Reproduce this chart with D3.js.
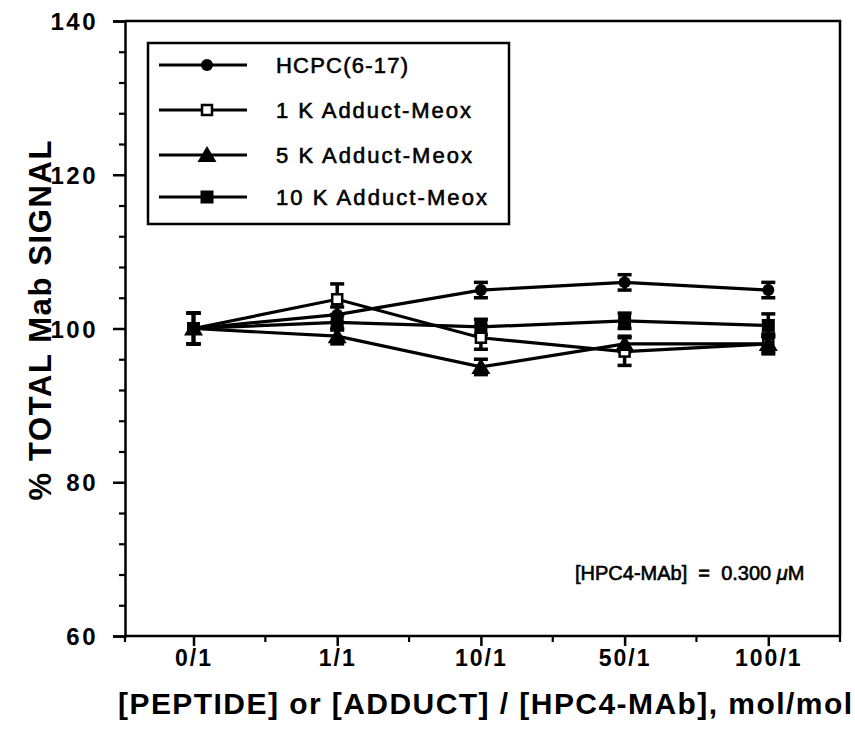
<!DOCTYPE html>
<html>
<head>
<meta charset="utf-8">
<script src="https://cdn.jsdelivr.net/npm/d3@7"></script>
<style>
  html, body { margin: 0; padding: 0; background: #fff; }
  svg { display: block; }
  text { font-family: "Liberation Sans", Arial, Helvetica, sans-serif; fill: #000; }
</style>
</head>
<body>
<svg id="chart" width="855" height="736"></svg>
<script>
// ---- data ----
const categories = ["0/1", "1/1", "10/1", "50/1", "100/1"];
const seriesNames = ["HCPC(6-17)", "1 K Adduct-Meox", "5 K Adduct-Meox", "10 K Adduct-Meox"];
const hcpcValues   = [100, 101.8, 105.0, 106.0, 105.0];
const hcpcErrors   = [2.0, 1.0, 1.0, 1.0, 1.0];
const adduct1kValues = [100, 103.8, 98.8, 97.0, 98.0];
const adduct1kErrors = [2.0, 2.0, 1.5, 1.8, 1.0];
const adduct5kValues = [100, 99.0, 95.0, 98.0, 98.0];
const adduct5kErrors = [2.0, 1.0, 1.0, 1.0, 1.3];
const adduct10kValues = [100, 100.8, 100.2, 101.0, 100.4];
const adduct10kErrors = [2.0, 1.0, 1.0, 1.0, 1.5];
const yTicks = [60, 80, 100, 120, 140];
const yMinorTicks = [64, 68, 72, 76, 84, 88, 92, 96, 104, 108, 112, 116, 124, 128, 132, 136];
const yLabel = "% TOTAL Mab SIGNAL";
const xLabel = "[PEPTIDE] or [ADDUCT] / [HPC4-MAb], mol/mol";
const noteText = "[HPC4-MAb]  =  0.300 ";

const series = [
  { name: seriesNames[0], values: hcpcValues, errors: hcpcErrors, symbol: "circle" },
  { name: seriesNames[1], values: adduct1kValues, errors: adduct1kErrors, symbol: "openSquare" },
  { name: seriesNames[2], values: adduct5kValues, errors: adduct5kErrors, symbol: "triangle" },
  { name: seriesNames[3], values: adduct10kValues, errors: adduct10kErrors, symbol: "square" }
];

// ---- layout ----
const plot = { left: 125, right: 840, top: 21, bottom: 636 };
const svg = d3.select("#chart");

const x = d3.scalePoint().domain(categories).range([193.5, 768.3]);
const y = d3.scaleLinear().domain([60, 140]).range([plot.bottom, plot.top]);

// frame (top and right)
svg.append("path")
  .attr("d", `M${plot.left},${plot.top}H${plot.right}V${plot.bottom}`)
  .attr("fill", "none").attr("stroke", "#000").attr("stroke-width", 2.5);

// y axis
const yAxis = d3.axisLeft(y).tickValues(yTicks).tickSize(12).tickPadding(4).tickFormat(d3.format("d"));
const gy = svg.append("g").attr("transform", `translate(${plot.left},0)`).call(yAxis);
gy.select(".domain").attr("stroke-width", 2.5);
gy.selectAll(".tick line").attr("stroke-width", 2.5);
gy.selectAll(".tick text").style("font-size", "24px").style("font-weight", "bold")
  .attr("dy", "0.36em").attr("x", -27).style("letter-spacing", "2.5px");
const yMinor = d3.axisLeft(y).tickValues(yMinorTicks).tickSize(6).tickFormat("");
const gym = svg.append("g").attr("transform", `translate(${plot.left},0)`).call(yMinor);
gym.select(".domain").remove();
gym.selectAll(".tick line").attr("stroke-width", 2.2);

// x axis
const xAxis = d3.axisBottom(x).tickSize(10).tickPadding(12);
const gx = svg.append("g").attr("transform", `translate(0,${plot.bottom})`).call(xAxis);
gx.select(".domain").attr("d", `M${plot.left},0H${plot.right}`).attr("stroke-width", 2.5);
gx.selectAll(".tick line").attr("stroke-width", 2.5);
gx.selectAll(".tick text").style("font-size", "23px").style("font-weight", "bold")
  .style("letter-spacing", "2px").attr("y", 14).attr("dy", "0.71em");
// minor x ticks at midpoints and frame ends
const step = x.step();
const xMinorPos = [plot.left].concat(categories.slice(0, -1).map(c => x(c) + step / 2)).concat([plot.right]);
svg.append("g").selectAll("line").data(xMinorPos).join("line")
  .attr("x1", d => d).attr("x2", d => d)
  .attr("y1", plot.bottom).attr("y2", plot.bottom + 6)
  .attr("stroke", "#000").attr("stroke-width", 2.2);

// axis titles
svg.append("text")
  .attr("transform", `translate(51,${(plot.top + plot.bottom) / 2 - 8}) rotate(-90)`)
  .attr("text-anchor", "middle")
  .attr("textLength", 360).attr("lengthAdjust", "spacing")
  .style("font-size", "31px").style("font-weight", "bold")
  .text(yLabel);
svg.append("text")
  .attr("x", 118).attr("y", 714)
  .attr("textLength", 734).attr("lengthAdjust", "spacing")
  .style("font-size", "30px").style("font-weight", "bold")
  .text(xLabel);

// note
const note = svg.append("text").attr("x", 575).attr("y", 580)
  .style("white-space", "pre")
  .style("font-size", "20px").attr("stroke", "#000").attr("stroke-width", 0.6);
note.append("tspan").text(noteText);
note.append("tspan").style("font-style", "italic").text("\u03bc");
note.append("tspan").text("M");

// ---- markers ----
function drawMarker(g, symbol, cx, cy) {
  if (symbol === "circle") {
    g.append("circle").attr("cx", cx).attr("cy", cy).attr("r", 6).attr("fill", "#000");
  } else if (symbol === "openSquare") {
    g.append("rect").attr("x", cx - 5).attr("y", cy - 5).attr("width", 10).attr("height", 10)
      .attr("fill", "#fff").attr("stroke", "#000").attr("stroke-width", 2.5);
  } else if (symbol === "square") {
    g.append("rect").attr("x", cx - 6.5).attr("y", cy - 6.5).attr("width", 13).attr("height", 13)
      .attr("fill", "#000");
  } else if (symbol === "triangle") {
    g.append("path").attr("d", `M${cx},${cy - 9}L${cx + 9.5},${cy + 7}L${cx - 9.5},${cy + 7}Z`)
      .attr("fill", "#000");
  }
}

const line = d3.line().x((d, i) => x(categories[i])).y(d => y(d));
const gLines = svg.append("g");
series.forEach(s => {
  gLines.append("path").datum(s.values).attr("d", line)
    .attr("fill", "none").attr("stroke", "#000").attr("stroke-width", 3.2);
});

const gErr = svg.append("g");
series.forEach(s => {
  s.values.forEach((v, i) => {
    const cx = x(categories[i]);
    const y1 = y(v + s.errors[i]), y2 = y(v - s.errors[i]);
    gErr.append("line").attr("x1", cx).attr("x2", cx).attr("y1", y1).attr("y2", y2)
      .attr("stroke", "#000").attr("stroke-width", 3.5);
    [y1, y2].forEach(yy => {
      gErr.append("line").attr("x1", cx - 7).attr("x2", cx + 7).attr("y1", yy).attr("y2", yy)
        .attr("stroke", "#000").attr("stroke-width", 3.5);
    });
  });
});

const gMarks = svg.append("g");
series.forEach(s => {
  s.values.forEach((v, i) => drawMarker(gMarks, s.symbol, x(categories[i]), y(v)));
});

// ---- legend ----
const legendBox = { x: 148, y: 43, w: 361, h: 181 };
svg.append("rect").attr("x", legendBox.x).attr("y", legendBox.y)
  .attr("width", legendBox.w).attr("height", legendBox.h)
  .attr("fill", "#fff").attr("stroke", "#000").attr("stroke-width", 2.5);
const legendRowsY = [65, 110, 155, 197];
const legendTextLen = [132, 195, 196, 211];
series.forEach((s, i) => {
  const ly = legendRowsY[i];
  const g = svg.append("g");
  g.append("line").attr("x1", 159).attr("x2", 247).attr("y1", ly).attr("y2", ly)
    .attr("stroke", "#000").attr("stroke-width", 3);
  drawMarker(g, s.symbol, 207, ly);
  g.append("text").attr("x", 276).attr("y", ly).attr("dy", "0.36em")
    .attr("textLength", legendTextLen[i]).attr("lengthAdjust", "spacing")
    .style("font-size", "22px").attr("stroke", "#000").attr("stroke-width", 0.6)
    .text(s.name);
});
</script>
</body>
</html>
